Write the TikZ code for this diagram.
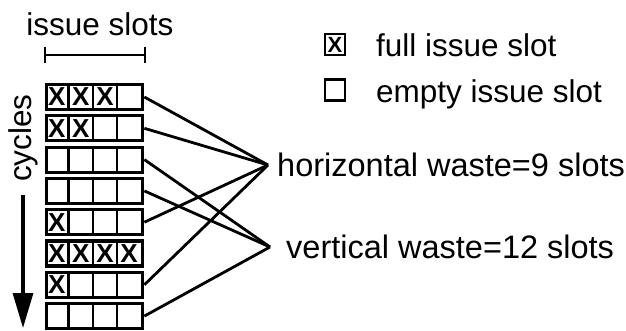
\documentclass[tikz,border=0pt]{standalone}
\usepackage{fontspec}
\setmainfont{Liberation Sans}
\usetikzlibrary{positioning, arrows.meta}

\tikzset{
  slotrow/.style={draw, line width=3.2pt, minimum width=96.5pt, minimum height=25pt, inner sep=0pt},
  slotmark/.style={font=\fontsize{26}{26}\bfseries, inner sep=0pt},
  legbox/.style={draw, line width=2.6pt, minimum width=20pt, minimum height=21pt, inner sep=0pt, font=\fontsize{22}{22}\bfseries},
  bigtext/.style={font=\fontsize{31.5}{36}\selectfont, inner sep=0pt},
  wastetext/.style={font=\fontsize{32.5}{36}\selectfont, inner sep=0pt},
  wasteline/.style={line width=2.8pt},
}

\begin{document}
\begin{tikzpicture}[x=1pt,y=1pt]
    \useasboundingbox (0,0) rectangle (626,-330);
    % issue slots
    \node[bigtext, anchor=base] (slots) at (100,-35) {issue slots};
    \coordinate (bl) at (45,-55);
    \coordinate (br) at (145,-55);
    \draw[line width=2pt] (bl) -- (br);
    \draw[line width=2pt] ([yshift=8]bl) -- ([yshift=-8]bl);
    \draw[line width=2pt] ([yshift=8]br) -- ([yshift=-8]br);
    % cycles
    \node[bigtext, rotate=90] (cyc) at (23,-138) {cycles};
    \coordinate (atop) at (23,-195);
    \coordinate (abot) at (23,-328);
    \draw[line width=3.2pt, -{Triangle[length=35pt,width=20pt]}] (atop) -- (abot);
    % rows of slots
    \foreach \i/\n in {1/3,2/2,3/0,4/0,5/1,6/4,7/1,8/0}{
      \node[slotrow] (r\i) at (94.5,{-97-31.3*(\i-1)}) {};
      \foreach \k in {1,2,3}
        \draw[line width=2.6pt] ([xshift={24.1*\k}]r\i.north west) -- ([xshift={24.1*\k}]r\i.south west);
      \ifnum\n>0
        \foreach \k in {1,...,\n}
          \node[slotmark] at ([xshift={24.1*\k-12}]r\i.west) {X};
      \fi
    }
    % legend
    \node[legbox] (lfull) at (335,-44.5) {X};
    \node[legbox] (lempty) at (335,-90) {};
    \node[bigtext, anchor=base west] (tfull) at (376,-56) {full issue slot};
    \node[bigtext, anchor=base west] (tempty) at (376,-102) {empty issue slot};
    % waste
    \coordinate (hw) at (268,-165);
    \coordinate (vw) at (270,-247);
    \node[wastetext, right=9pt of hw] (hwtext) {horizontal waste=9 slots};
    \node[wastetext, right=16pt of vw] (vwtext) {vertical waste=12 slots};
    \foreach \i in {1,2,5,7}
      \draw[wasteline] (r\i.east) -- (hw);
    \foreach \i in {3,4,8}
      \draw[wasteline] (r\i.east) -- (vw);
\end{tikzpicture}
\end{document}
